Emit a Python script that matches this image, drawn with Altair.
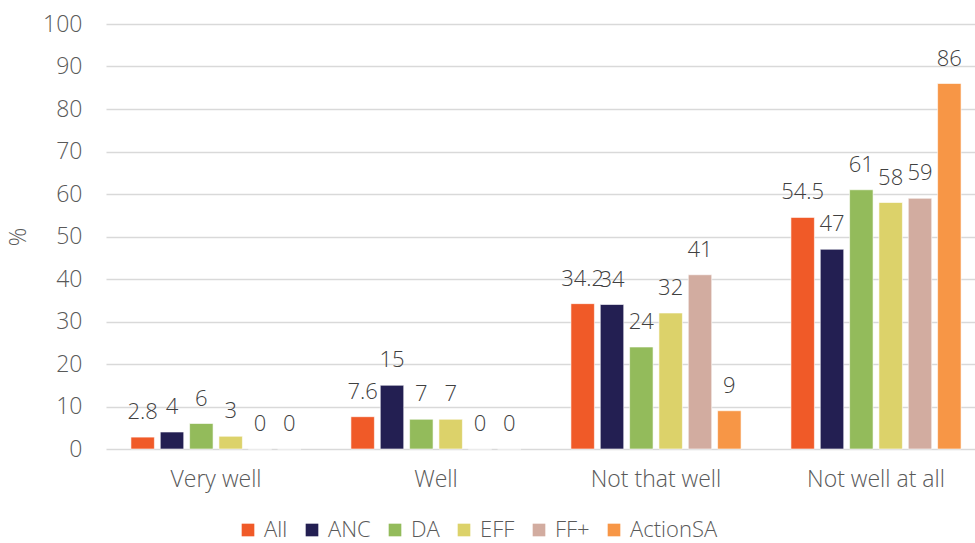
import altair as alt
import pandas as pd

categories = ["Very well", "Well", "Not that well", "Not well at all"]
parties = ["All", "ANC", "DA", "EFF", "FF+", "ActionSA"]
colors = ["#F05A28", "#231F52", "#93BB5B", "#DCD26A", "#D2ACA0", "#F79646"]

val_all = [2.8, 7.6, 34.2, 54.5]
val_anc = [4, 15, 34, 47]
val_da = [6, 7, 24, 61]
val_eff = [3, 7, 32, 58]
val_ffplus = [0, 0, 41, 59]
val_actionsa = [0, 0, 9, 86]

series = [val_all, val_anc, val_da, val_eff, val_ffplus, val_actionsa]
rows = []
for p, vals in zip(parties, series):
    for c, v in zip(categories, vals):
        rows.append({"category": c, "party": p, "value": v})
df = pd.DataFrame(rows)

FONT = "Open Sans"
FW = 300
FS = 23
TXT = "#595959"

x_enc = alt.X("category:N", sort=categories, title=None,
              scale=alt.Scale(range=[0, 880], paddingInner=0, paddingOuter=0),
              axis=alt.Axis(labelAngle=0, labelFontSize=FS, labelColor=TXT, labelFont=FONT,
                            labelFontWeight=FW,
                            labelPadding=19, ticks=False, domain=False, grid=False))
xoff = alt.XOffset("party:N", sort=parties,
                   scale=alt.Scale(paddingInner=0.2, paddingOuter=0.85))
y_enc = alt.Y("value:Q", title="%",
              scale=alt.Scale(domain=[0, 100], nice=False),
              axis=alt.Axis(values=list(range(0, 101, 10)), labelFontSize=FS, labelColor=TXT,
                            labelFont=FONT, labelFontWeight=FW, labelPadding=24, ticks=False,
                            domain=False, gridColor="#D9D9D9", gridWidth=1.5,
                            titleFontSize=FS, titleColor=TXT, titleFont=FONT,
                            titleFontWeight=FW, titlePadding=12))

bars = alt.Chart(df).mark_bar(stroke="white", strokeWidth=0.6).encode(
    x=x_enc, xOffset=xoff, y=y_enc,
    color=alt.Color("party:N", sort=parties,
                    scale=alt.Scale(domain=parties, range=colors),
                    legend=alt.Legend(title=None, orient="none", direction="horizontal",
                                      legendX=131, legendY=495, symbolType="square",
                                      symbolSize=160, symbolStrokeWidth=0,
                                      labelFontSize=22, labelColor=TXT, labelFont=FONT,
                                      labelFontWeight=FW,
                                      labelOffset=5, columnPadding=13)),
)

labels = alt.Chart(df).mark_text(baseline="middle", dy=-25, fontSize=22,
                                 color="#404040", font=FONT, fontWeight=FW).encode(
    x=alt.X("category:N", sort=categories,
            scale=alt.Scale(range=[0, 880], paddingInner=0, paddingOuter=0)),
    xOffset=xoff,
    y=alt.Y("value:Q"),
    text=alt.Text("value:Q", format=".1~f"),
)

chart = alt.layer(bars, labels).properties(
    width=869, height=425,
    padding={"left": 106, "top": 24, "right": 0, "bottom": 94},
    autosize=alt.AutoSizeParams(type="none"),
).configure_view(stroke=None)

chart.save("out.html", embed_options={"renderer": "svg", "actions": False})
